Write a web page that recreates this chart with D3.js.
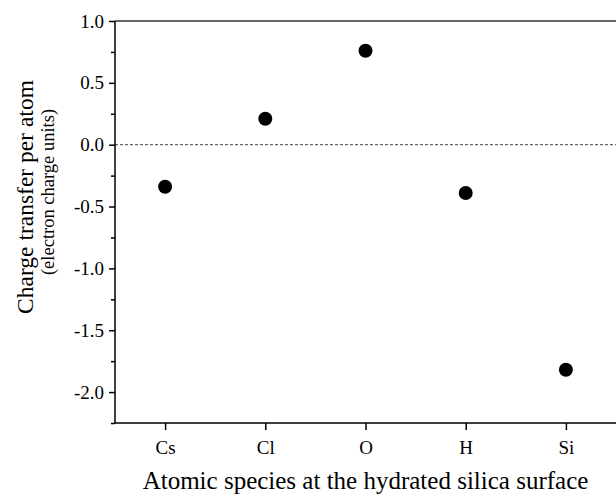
<!DOCTYPE html>
<html>
<head>
<meta charset="utf-8">
<script src="https://cdn.jsdelivr.net/npm/d3@7"></script>
<style>
  html, body { margin: 0; padding: 0; background: #fff; }
  svg { display: block; }
  svg text { font-family: "Liberation Serif", "Times New Roman", Times, serif; fill: #000; }
</style>
</head>
<body>
<svg id="chart" width="616" height="494"></svg>
<script>
// Charge transfer per atomic species
const species = ['Cs', 'Cl', 'O', 'H', 'Si'];
const charge = [-0.34, 0.21, 0.76, -0.39, -1.82];
const yTicks = [1.0, 0.5, 0.0, -0.5, -1.0, -1.5, -2.0];

const W = 616, H = 494;
const margin = { top: 21, right: 0, bottom: 71, left: 115 };
const innerW = W - margin.left - margin.right;
const innerH = H - margin.top - margin.bottom;

const svg = d3.select('#chart');
const g = svg.append('g').attr('transform', `translate(${margin.left},${margin.top})`);

// categories sit at 1..5 on a 0.5..5.5 domain
const x = d3.scaleLinear().domain([0.5, species.length + 0.5]).range([0, innerW]);
const y = d3.scaleLinear().domain([-2.25, 1.0]).range([innerH, 0]);

// top frame line
g.append('line')
  .attr('x1', 0).attr('x2', innerW)
  .attr('y1', 0).attr('y2', 0)
  .attr('stroke', '#333').attr('stroke-width', 1.5);

// zero reference line
g.append('line')
  .attr('x1', 0).attr('x2', innerW)
  .attr('y1', y(0)).attr('y2', y(0))
  .attr('stroke', '#444').attr('stroke-width', 1)
  .attr('stroke-dasharray', '3,2');

// minor y ticks
const yMinor = d3.axisLeft(y)
  .tickValues(d3.range(-2.25, 1.001, 0.25).filter(v => Math.abs(v * 2 - Math.round(v * 2)) > 1e-6))
  .tickSize(4).tickFormat('');
g.append('g').call(yMinor)
  .call(s => s.select('.domain').remove())
  .call(s => s.selectAll('line').attr('stroke', '#000').attr('stroke-width', 1.5));

// y axis
const yAxis = d3.axisLeft(y)
  .tickValues(yTicks)
  .tickSize(6).tickPadding(5)
  .tickFormat(d => d3.format('.1f')(d).replace('−', '-'));
g.append('g').call(yAxis)
  .attr('font-family', null).attr('font-size', null)
  .call(s => s.select('.domain').attr('stroke', '#000').attr('stroke-width', 1.5).attr('d', `M0,0V${innerH}`))
  .call(s => s.selectAll('line').attr('stroke', '#000').attr('stroke-width', 1.5))
  .call(s => s.selectAll('text').attr('fill', '#000').style('font-size', '19px'));

// x axis
const xAxis = d3.axisBottom(x)
  .tickValues(d3.range(1, species.length + 1))
  .tickSize(7).tickPadding(11)
  .tickFormat(i => species[i - 1]);
g.append('g').attr('transform', `translate(0,${innerH})`).call(xAxis)
  .attr('font-family', null).attr('font-size', null)
  .call(s => s.select('.domain').attr('stroke', '#000').attr('stroke-width', 1.5).attr('d', `M0,0H${innerW}`))
  .call(s => s.selectAll('line').attr('stroke', '#000').attr('stroke-width', 1.5))
  .call(s => s.selectAll('text').attr('fill', '#000').style('font-size', '19px'));

// points
g.append('g').selectAll('circle')
  .data(charge)
  .join('circle')
  .attr('cx', (d, i) => x(i + 1))
  .attr('cy', d => y(d))
  .attr('r', 7)
  .attr('fill', '#000');

// axis titles
svg.append('text')
  .attr('x', margin.left + innerW / 2)
  .attr('y', 489)
  .attr('text-anchor', 'middle')
  .style('font-size', '25px')
  .text('Atomic species at the hydrated silica surface');

svg.append('text')
  .attr('transform', 'translate(33,197) rotate(-90)')
  .attr('text-anchor', 'middle')
  .style('font-size', '23.5px')
  .text('Charge transfer per atom');
svg.append('text')
  .attr('transform', 'translate(54,192) rotate(-90)')
  .attr('text-anchor', 'middle')
  .style('font-size', '18.5px')
  .text('(electron charge units)');
</script>
</body>
</html>
